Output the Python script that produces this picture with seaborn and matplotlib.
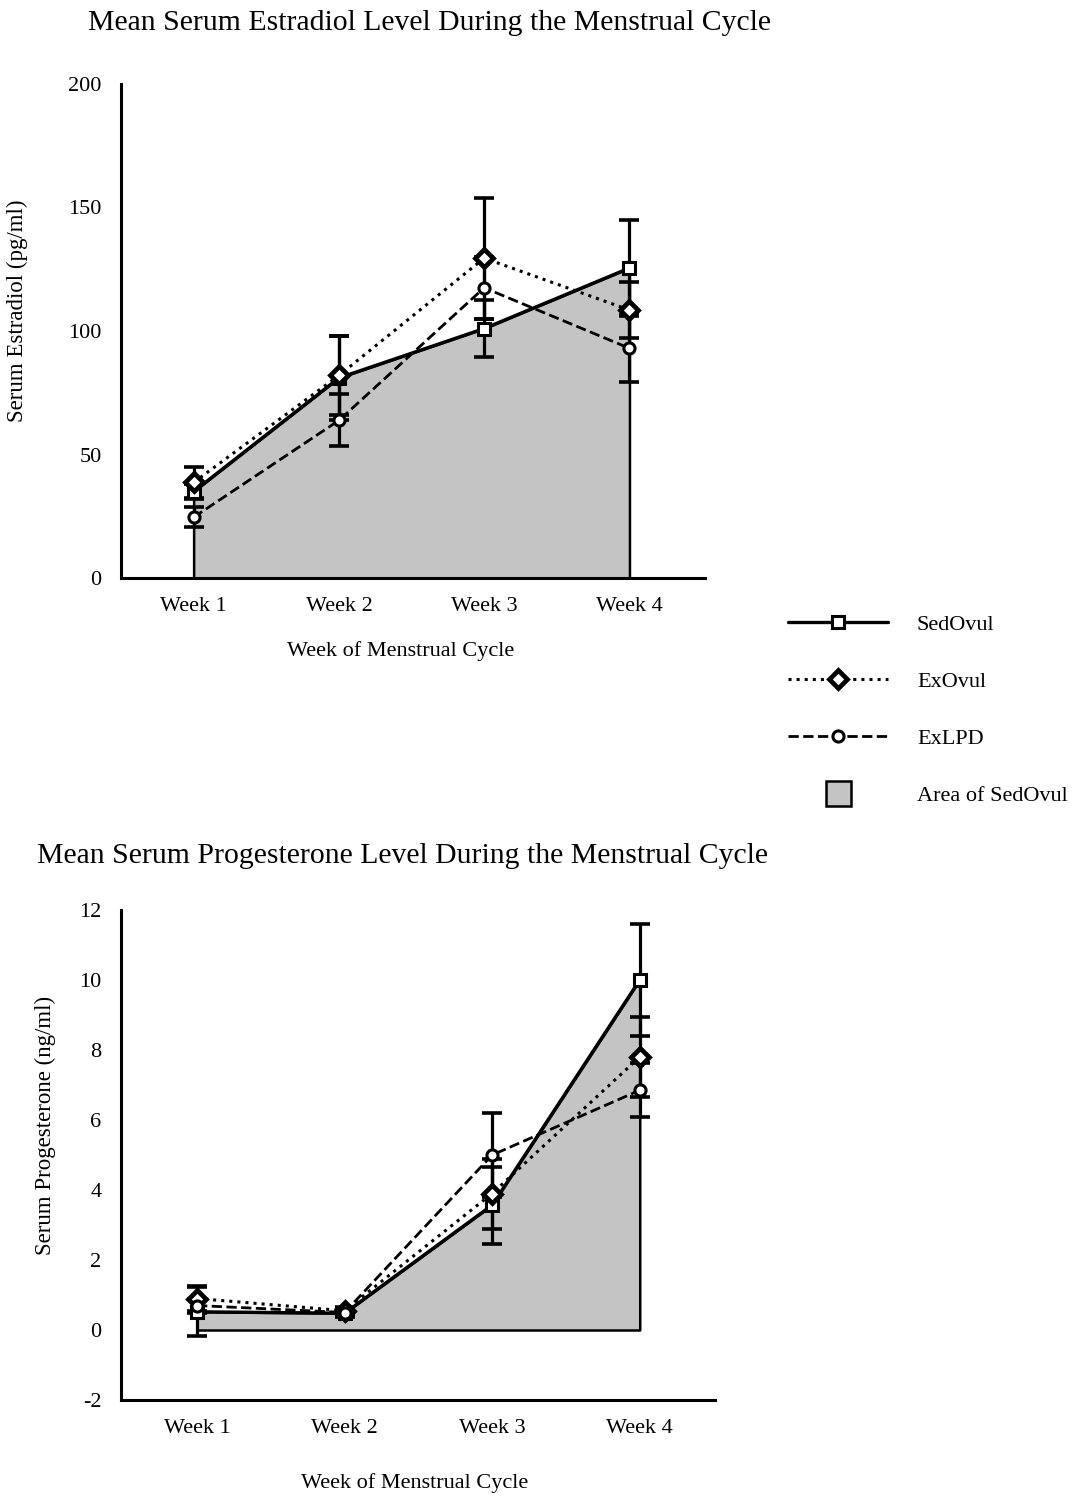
import numpy as np
import pandas as pd
import matplotlib
matplotlib.use("Agg")
import matplotlib.pyplot as plt
import seaborn as sns
from matplotlib.lines import Line2D

weeks = ["Week 1", "Week 2", "Week 3", "Week 4"]
groups = ["SedOvul", "ExOvul", "ExLPD"]

# estradiol (pg/ml), mean and error
e2_sed = [35, 81, 101, 125.5]
e2_sed_err = [3, 17, 11.5, 19.5]
e2_exo = [38.7, 82, 129.5, 108.5]
e2_exo_err = [6.3, 16, 24.5, 11.5]
e2_lpd = [24.6, 63.8, 117.5, 93]
e2_lpd_err = [4, 10.5, 12.5, 13.5]

# progesterone (ng/ml), mean and error
p4_sed = [0.52, 0.48, 3.57, 10.0]
p4_sed_err = [0.7, 0.1, 1.1, 1.6]
p4_exo = [0.9, 0.55, 3.9, 7.8]
p4_exo_err = [0.36, 0.1, 1.0, 1.15]
p4_lpd = [0.7, 0.5, 5.0, 6.85]
p4_lpd_err = [0.2, 0.1, 1.2, 0.77]

sns.set_style("white")
plt.rcParams["font.family"] = ["Liberation Serif", "DejaVu Serif"]
plt.rcParams["axes.unicode_minus"] = False
plt.rcParams["text.color"] = "black"
plt.rcParams["axes.labelcolor"] = "black"
plt.rcParams["xtick.color"] = "black"
plt.rcParams["ytick.color"] = "black"

styles = {
    "SedOvul": dict(linestyle="-", marker="s", ms=8, mew=2.2, mfc="white", lw=2.4),
    "ExOvul": dict(linestyle=":", marker="D", ms=9, mew=3.4, mfc="white", lw=2.2),
    "ExLPD": dict(linestyle="--", marker="o", ms=8, mew=2.2, mfc="white", lw=2.0),
}
FILL = "#c4c4c4"
FS = 16

fig = plt.figure(figsize=(10.72, 14.96), dpi=100)
ax1 = fig.add_axes([121 / 1072, 1 - 578 / 1496, 584 / 1072, 494 / 1496])
ax2 = fig.add_axes([121 / 1072, 1 - 1400 / 1496, 594 / 1072, 490 / 1496])


def draw(ax, series, errs, ylim, yticks):
    x = np.arange(len(weeks))
    ax.fill_between(x, 0, series[0], facecolor=FILL, edgecolor="black",
                    lw=1.8, zorder=1)
    for name, vals, err in zip(groups, series, errs):
        st = styles[name]
        ax.errorbar(x, vals, yerr=err, fmt="none", ecolor="black",
                    elinewidth=2.3, capsize=7.5, capthick=2.6, zorder=2)
        sns.lineplot(x=x, y=vals, ax=ax, color="black", linestyle=st["linestyle"],
                     lw=st["lw"], marker=st["marker"], markersize=st["ms"],
                     markeredgewidth=st["mew"], markerfacecolor=st["mfc"],
                     markeredgecolor="black", zorder=3)
    ax.set_ylim(*ylim)
    ax.set_yticks(yticks)
    ax.set_xticks(x)
    ax.set_xticklabels(weeks)
    for s in ["top", "right"]:
        ax.spines[s].set_visible(False)
    for s in ["left", "bottom"]:
        ax.spines[s].set_linewidth(2.2)
        ax.spines[s].set_color("black")
    ax.tick_params(axis="both", direction="out", length=8, width=2.2,
                   labelsize=FS, pad=6, color="black", labelcolor="black")
    ax.grid(False)


draw(ax1, [e2_sed, e2_exo, e2_lpd], [e2_sed_err, e2_exo_err, e2_lpd_err],
     (0, 200), [0, 50, 100, 150, 200])
ax1.set_xlim(-0.5, 3.52)
ax1.set_ylabel("Serum Estradiol (pg/ml)", fontsize=16.5)
ax1.set_xlabel("Week of Menstrual Cycle", fontsize=FS)
ax1.yaxis.set_label_coords(-0.16, 0.54)
ax1.xaxis.set_label_coords(0.478, -0.128)

draw(ax2, [p4_sed, p4_exo, p4_lpd], [p4_sed_err, p4_exo_err, p4_lpd_err],
     (-2, 12), [-2, 0, 2, 4, 6, 8, 10, 12])
ax2.set_xlim(-0.515, 3.51)
ax2.set_ylabel("Serum Progesterone (ng/ml)", fontsize=16.5)
ax2.set_xlabel("Week of Menstrual Cycle", fontsize=FS)
ax2.yaxis.set_label_coords(-0.11, 0.56)
ax2.xaxis.set_label_coords(0.495, -0.15)

fig.text(88 / 1072, 1 - 23 / 1496, "Mean Serum Estradiol Level During the Menstrual Cycle",
         fontsize=21.4, ha="left", va="center")
fig.text(37 / 1072, 1 - 856 / 1496, "Mean Serum Progesterone Level During the Menstrual Cycle",
         fontsize=21.4, ha="left", va="center")

handles = []
for name in groups:
    st = styles[name]
    handles.append(Line2D([], [], color="black", linestyle=st["linestyle"], lw=st["lw"],
                          marker=st["marker"], markersize=st["ms"],
                          markeredgewidth=st["mew"], markerfacecolor=st["mfc"],
                          markeredgecolor="black"))
handles.append(Line2D([], [], linestyle="none", marker="s", markersize=18,
                      markerfacecolor=FILL, markeredgecolor="black", markeredgewidth=1.8))
fig.legend(handles, groups + ["Area of SedOvul"], loc="upper left",
           bbox_to_anchor=(768 / 1072, 1 - 594 / 1496), frameon=False,
           fontsize=FS, handlelength=4.5, handletextpad=1.3, labelspacing=1.65)

fig.savefig("out.png", dpi=100)
